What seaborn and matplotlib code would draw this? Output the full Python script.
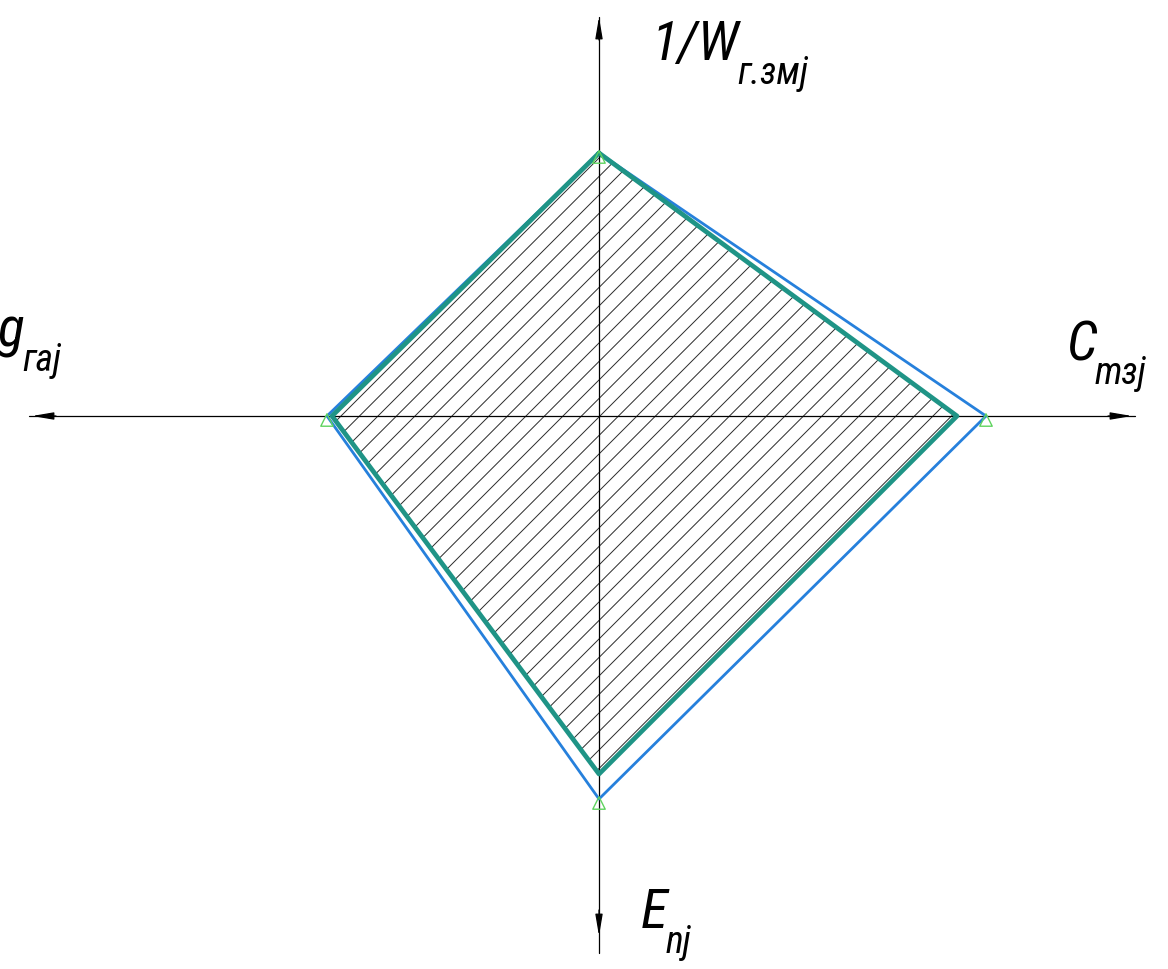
import matplotlib
matplotlib.use("Agg")
import matplotlib.pyplot as plt
from matplotlib import font_manager
from matplotlib.patches import Polygon
import seaborn as sns
import pandas as pd
import numpy as np

# ---- data (units: value along each axis) ----
axes_names = ["1/W", "C", "E", "g"]          # up, right, down, left
directions = [(0, 1), (1, 0), (0, -1), (-1, 0)]
blue_vals = [2.63, 3.87, 3.83, 2.72]
green_vals = [2.63, 3.58, 3.58, 2.67]

sns.set_theme(style="white")
names = {f.name for f in font_manager.fontManager.ttflist}
pref = ["Liberation Sans Narrow", "DejaVu Sans Condensed", "Roboto Condensed",
        "Open Sans Condensed", "Roboto", "Liberation Sans"]
chosen = [n for n in pref if n in names][:1]
plt.rcParams["font.family"] = chosen + ["DejaVu Sans"]

W, H = 1168, 969
fig = plt.figure(figsize=(W / 100, H / 100), dpi=100)
ax = fig.add_axes([0, 0, 1, 1])
cx, cy = 599, 416
ax.set_xlim(-cx / 100, (W - cx) / 100)
ax.set_ylim(-(H - cy) / 100, cy / 100)
ax.set_axis_off()

def poly(vals):
    xs = [d[0] * v for d, v in zip(directions, vals)]
    ys = [d[1] * v for d, v in zip(directions, vals)]
    return xs + [xs[0]], ys + [ys[0]]

bx, by = poly(blue_vals)
gx, gy = poly(green_vals)
df_blue = pd.DataFrame({"x": bx, "y": by})
df_green = pd.DataFrame({"x": gx, "y": gy})

px = lambda p: (p - cx) / 100
py = lambda p: (cy - p) / 100

# hatch fill (diagonal lines clipped to the green polygon)
clip = Polygon(np.column_stack([gx, gy]), closed=True, facecolor="none",
               edgecolor="none", transform=ax.transData)
ax.add_patch(clip)
step = 0.185
for c in np.arange(-10, 10, step):
    ln, = ax.plot([-6, 6], [-6 + c, 6 + c], color="#2a2a2a", lw=0.7, zorder=1)
    ln.set_clip_path(clip)

# axis lines
ax.plot([0, 0], [py(17), py(953)], color="black", lw=0.9, zorder=2)
ax.plot([px(29), px(1135)], [0, 0], color="black", lw=0.9, zorder=2)
arrow_kw = dict(arrowstyle="-|>,head_length=1.3,head_width=0.22", color="black",
                lw=0.9, shrinkA=0, shrinkB=0, mutation_scale=10)
ax.annotate("", xy=(0, py(17)), xytext=(0, py(40)), arrowprops=arrow_kw, zorder=3)
ax.annotate("", xy=(0, py(936)), xytext=(0, py(910)), arrowprops=arrow_kw, zorder=3)
ax.annotate("", xy=(px(1132), 0), xytext=(px(1108), 0), arrowprops=arrow_kw, zorder=3)
ax.annotate("", xy=(px(32), 0), xytext=(px(56), 0), arrowprops=arrow_kw, zorder=3)

# polygons
sns.lineplot(data=df_blue, x="x", y="y", sort=False, estimator=None, color="#2680dc",
             lw=2.0, ax=ax, zorder=4)
sns.lineplot(data=df_green, x="x", y="y", sort=False, estimator=None, color="#1f9486",
             lw=3.4, ax=ax, zorder=5)
sns.scatterplot(x=bx[:4], y=[v - 0.04 for v in by[:4]], marker="^", s=80,
                facecolors="none", edgecolors="#5fd35f", linewidths=1.0, ax=ax, zorder=6)
ax.set_xlim(-cx / 100, (W - cx) / 100)
ax.set_ylim(-(H - cy) / 100, cy / 100)

# labels: main text, then subscript right after its measured extent
renderer = fig.canvas.get_renderer()
main, sub = 40, 27

def lab(x, y, s, s_sub, dy_sub=24, gap=-2):
    t = fig.text(x / W, 1 - y / H, s, fontsize=main, style="italic", va="baseline",
                 ha="left", color="black")
    bb = t.get_window_extent(renderer=renderer)
    fig.text((bb.x1 + gap) / W, 1 - (y + dy_sub) / H, s_sub, fontsize=sub,
             style="italic", va="baseline", ha="left", color="black")

lab(652, 60, "1/W", "г.змj")
lab(1066, 360, "C", "mзj")
lab(-2, 347, "g", "гаj")
lab(641, 928, "E", "nj", dy_sub=25)

fig.savefig("out.png", dpi=100)
